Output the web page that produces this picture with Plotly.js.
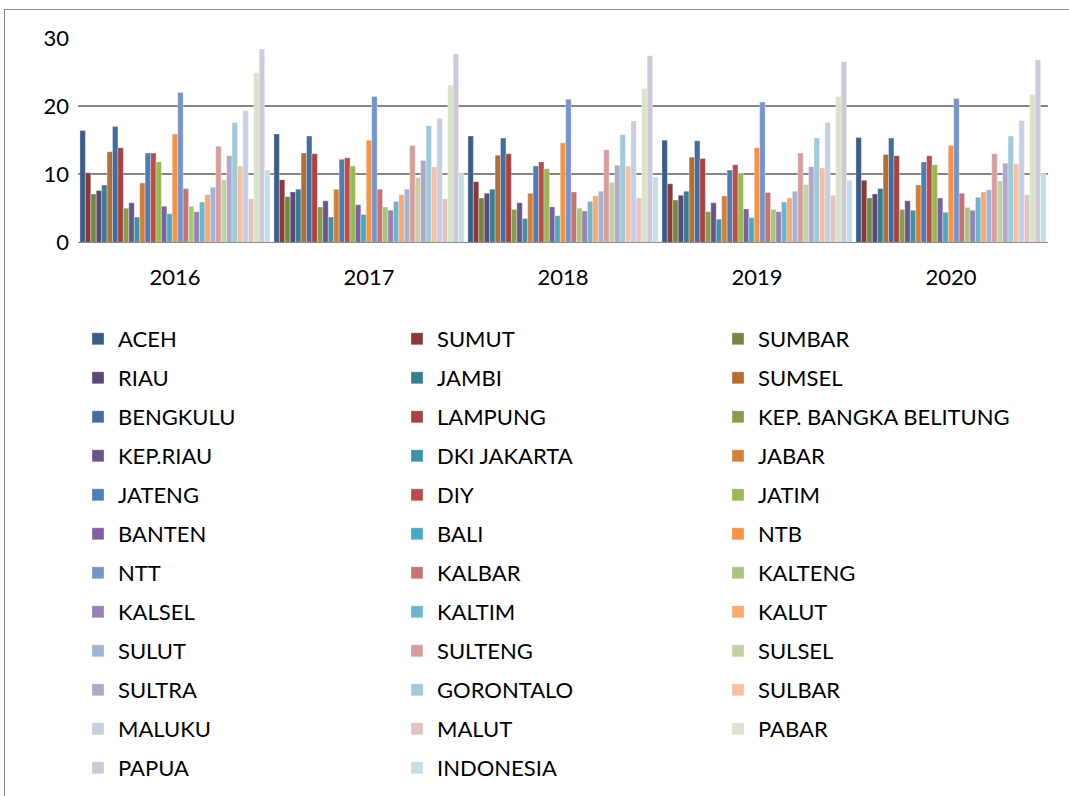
<!DOCTYPE html>
<html>
<head>
<meta charset="utf-8">
<script src="https://cdn.plot.ly/plotly-3.0.1.min.js"></script>
<style>
html,body{margin:0;padding:0;background:#fff;overflow:hidden;}
#frame{position:absolute;left:4px;top:9px;width:1100px;height:820px;border:1px solid #868686;pointer-events:none;}
#chart{position:absolute;left:0;top:0;width:1069px;height:796px;}
</style>
</head>
<body>
<div id="chart"></div>
<div id="frame"></div>
<script>
const years = ['2016','2017','2018','2019','2020'];
const provinces = ['ACEH','SUMUT','SUMBAR','RIAU','JAMBI','SUMSEL','BENGKULU','LAMPUNG','KEP. BANGKA BELITUNG','KEP.RIAU','DKI JAKARTA','JABAR','JATENG','DIY','JATIM','BANTEN','BALI','NTB','NTT','KALBAR','KALTENG','KALSEL','KALTIM','KALUT','SULUT','SULTENG','SULSEL','SULTRA','GORONTALO','SULBAR','MALUKU','MALUT','PABAR','PAPUA','INDONESIA'];

// values per year, in province order
const v2016 = [16.4,10.2,7.1,7.6,8.4,13.3,17.0,13.9,5.0,5.8,3.7,8.7,13.1,13.1,11.8,5.3,4.2,15.9,22.0,7.9,5.3,4.5,5.9,7.0,8.1,14.1,9.2,12.7,17.6,11.2,19.3,6.4,24.9,28.4,10.6];
const v2017 = [15.9,9.2,6.7,7.4,7.8,13.1,15.6,13.0,5.2,6.1,3.7,7.8,12.2,12.4,11.2,5.5,4.1,15.0,21.4,7.8,5.2,4.7,6.0,7.0,7.8,14.2,9.5,12.0,17.1,11.1,18.2,6.4,23.1,27.7,10.1];
const v2018 = [15.6,8.9,6.5,7.2,7.8,12.8,15.3,13.0,4.8,5.8,3.5,7.2,11.2,11.8,10.8,5.2,3.9,14.6,21.0,7.4,5.0,4.6,6.0,6.8,7.5,13.6,8.8,11.3,15.8,11.2,17.8,6.5,22.6,27.4,9.6];
const v2019 = [15.0,8.6,6.2,6.9,7.5,12.5,14.9,12.3,4.5,5.8,3.4,6.8,10.6,11.4,10.1,4.9,3.6,13.9,20.6,7.3,4.8,4.5,5.9,6.5,7.5,13.1,8.5,11.1,15.3,10.9,17.6,6.9,21.4,26.5,9.1];
const v2020 = [15.4,9.1,6.5,7.1,7.9,12.9,15.3,12.7,4.8,6.1,4.7,8.4,11.8,12.7,11.4,6.5,4.4,14.2,21.1,7.2,5.1,4.7,6.6,7.4,7.7,13.0,9.0,11.6,15.6,11.5,17.9,7.0,21.7,26.8,10.1];

const colors = ['#385D8A','#8C3836','#71893F','#5C4776','#357D91','#B66D31',
  '#426DA1','#A44340','#849F4B','#6B5489','#3F92A9','#D37F3A',
  '#4A7EBB','#BE4B48','#98B954','#7D60A0','#46AAC5','#F69240',
  '#7394CC','#C87371','#A9C57A','#9882B3','#6EB5CD','#F9A86E',
  '#A0B4D6','#D79E9C','#C0D3A2','#B3A7C6','#9FCADB','#F8BFA2',
  '#C3CFE3','#E5C2C1','#D8E3C8','#CFC8DB','#C3DEE6'];

const allYears = [v2016,v2017,v2018,v2019,v2020];
const legendNames = ['legend','legend2','legend3'];

const traces = provinces.map((p,i)=>({
  type:'bar',
  name:p,
  x:years,
  y:allYears.map(a=>a[i]),
  marker:{color:colors[i], line:{color:'rgba(255,255,255,0.55)', width:0.6}},
  legend:legendNames[i%3],
  legendgroup:'g'+i
}));

const FONT = 'Lato, "Open Sans", sans-serif';
const W = 1069, H = 796, ML = 78, MR = 21, MT = 38, MB = 0;
const PW = W - ML - MR, PH = H - MT - MB;
const px2x = px => (px - ML) / PW;
const py2y = py => (H - MB - py) / PH;

const legBase = {
  orientation:'v', xref:'paper', yref:'paper', xanchor:'left', yanchor:'top',
  y:py2y(318), font:{family:FONT,size:22,color:'#000'}, tracegroupgap:7.4,
  bgcolor:'rgba(0,0,0,0)', borderwidth:0
};

const layout = {
  width:W, height:H,
  margin:{l:ML, r:MR, t:MT, b:MB, pad:0},
  paper_bgcolor:'#fff', plot_bgcolor:'rgba(0,0,0,0)',
  font:{family:FONT, size:22, color:'#000'},
  barmode:'group', bargap:0.02, bargroupgap:0,
  showlegend:true,
  xaxis:{type:'category', showgrid:false, zeroline:false, showline:false, ticks:'', automargin:false,
    tickangle:0, ticklabelstandoff:20, tickfont:{family:FONT,size:22,color:'#000'}},
  yaxis:{range:[0,30], domain:[py2y(242.3),1], tickvals:[0,10,20,30], showgrid:true, gridcolor:'#868686', gridwidth:1.6,
    zeroline:true, zerolinecolor:'#868686', zerolinewidth:1.6, showline:false, ticks:'', automargin:false,
    ticklabelstandoff:8, tickfont:{family:FONT,size:22,color:'#000'}},
  legend:Object.assign({}, legBase, {x:0}),
  legend2:Object.assign({}, legBase, {x:px2x(397)}),
  legend3:Object.assign({}, legBase, {x:px2x(718)})
};

Plotly.newPlot('chart', traces, layout, {displayModeBar:false, staticPlot:true});
</script>
</body>
</html>
